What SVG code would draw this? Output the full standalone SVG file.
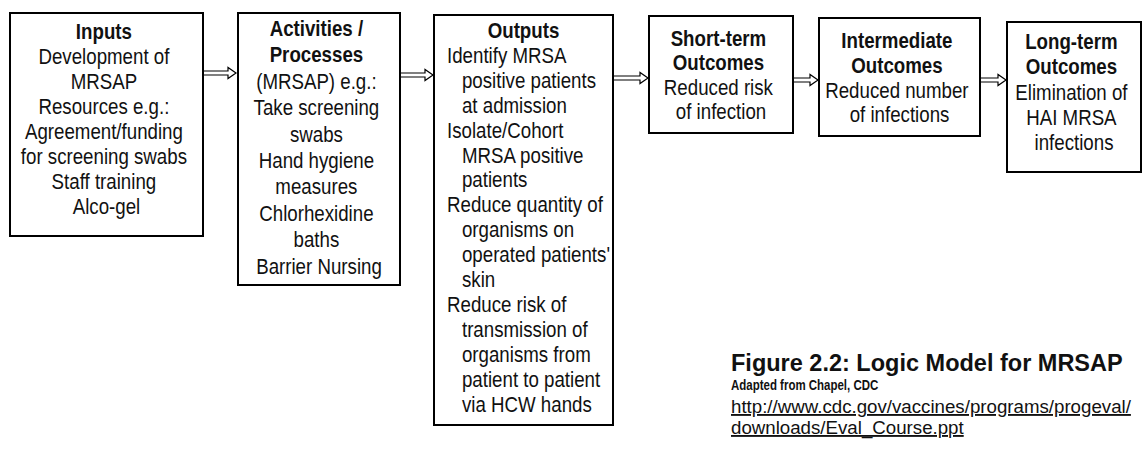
<svg xmlns="http://www.w3.org/2000/svg" width="1147" height="449" viewBox="0 0 1147 449">
<style>
.box{fill:#fff;stroke:#000;stroke-width:2}
.t{font-family:"Liberation Sans",Arial,sans-serif;font-size:22px;fill:#111;text-anchor:middle}
.l{text-anchor:start}
.b{font-weight:bold}
.arr{fill:#fff;stroke:#000;stroke-width:1.2;stroke-linejoin:miter}
.cap{font-family:"Liberation Sans",Arial,sans-serif;fill:#111;font-weight:bold}
.url{font-family:"Liberation Sans",Arial,sans-serif;fill:#111;font-size:18.7px;text-decoration:underline}
</style>
<rect width="1147" height="449" fill="#fff"/>
<g id="connectors">
<path class="arr" d="M203,71 H228 V67.5 L236,73 L228,78.5 V75 H203"/>
<path class="arr" d="M400,73 H425 V69.5 L433,75 L425,80.5 V77 H400"/>
<path class="arr" d="M613,76 H640 V72.5 L648,78 L640,83.5 V80 H613"/>
<path class="arr" d="M793,78 H810 V74.5 L818,80 L810,85.5 V82 H793"/>
<path class="arr" d="M980,78 H998 V74.5 L1006,80 L998,85.5 V82 H980"/>
</g>
<g id="inputs">
<rect class="box" x="10" y="13" width="193" height="223"/>
<text class="t" transform="translate(106.5,0) scale(0.85,1)" x="0" y="39"><tspan class="b">Inputs</tspan>
<tspan x="0" dy="25">Development of</tspan>
<tspan x="0" dy="25">MRSAP</tspan>
<tspan x="0" dy="25">Resources e.g.:</tspan>
<tspan x="0" dy="25">Agreement/funding</tspan>
<tspan x="0" dy="25">for screening swabs</tspan>
<tspan x="0" dy="25">Staff training</tspan>
<tspan x="0" dy="25">Alco-gel</tspan></text>
</g>
<g id="activities">
<rect class="box" x="238" y="13" width="162" height="272"/>
<text class="t" transform="translate(319,0) scale(0.85,1)" x="0" y="36"><tspan class="b">Activities /</tspan>
<tspan x="0" dy="26.4" class="b">Processes</tspan>
<tspan x="0" dy="26.4">(MRSAP) e.g.:</tspan>
<tspan x="0" dy="26.4">Take screening</tspan>
<tspan x="0" dy="26.4">swabs</tspan>
<tspan x="0" dy="26.4">Hand hygiene</tspan>
<tspan x="0" dy="26.4">measures</tspan>
<tspan x="0" dy="26.4">Chlorhexidine</tspan>
<tspan x="0" dy="26.4">baths</tspan>
<tspan x="0" dy="26.4">Barrier Nursing</tspan></text>
</g>
<g id="outputs">
<rect class="box" x="434" y="15" width="179" height="410"/>
<text class="t b" transform="translate(523.5,0) scale(0.85,1)" x="0" y="38">Outputs</text>
<text class="t l" transform="translate(447,0) scale(0.85,1)" x="0" y="63">Identify MRSA
<tspan x="17.6" dy="24.9">positive patients</tspan>
<tspan x="17.6" dy="24.9">at admission</tspan>
<tspan x="0" dy="24.9">Isolate/Cohort</tspan>
<tspan x="17.6" dy="24.9">MRSA positive</tspan>
<tspan x="17.6" dy="24.9">patients</tspan>
<tspan x="0" dy="24.9">Reduce quantity of</tspan>
<tspan x="17.6" dy="24.9">organisms on</tspan>
<tspan x="17.6" dy="24.9">operated patients'</tspan>
<tspan x="17.6" dy="24.9">skin</tspan>
<tspan x="0" dy="24.9">Reduce risk of</tspan>
<tspan x="17.6" dy="24.9">transmission of</tspan>
<tspan x="17.6" dy="24.9">organisms from</tspan>
<tspan x="17.6" dy="24.9">patient to patient</tspan>
<tspan x="17.6" dy="24.9">via HCW hands</tspan></text>
</g>
<g id="short-term">
<rect class="box" x="649" y="16" width="144" height="117"/>
<text class="t" transform="translate(721,0) scale(0.85,1)" x="0" y="46"><tspan class="b">Short-term</tspan>
<tspan x="0" dy="24.5" class="b">Outcomes</tspan>
<tspan x="0" dy="24.5">Reduced risk</tspan>
<tspan x="0" dy="24.5">of infection</tspan></text>
</g>
<g id="intermediate">
<rect class="box" x="819" y="18" width="161" height="118"/>
<text class="t" transform="translate(899.5,0) scale(0.85,1)" x="0" y="48"><tspan class="b">Intermediate</tspan>
<tspan x="0" dy="24.8" class="b">Outcomes</tspan>
<tspan x="0" dy="24.8">Reduced number</tspan>
<tspan x="0" dy="24.8">of infections</tspan></text>
</g>
<g id="long-term">
<rect class="box" x="1007" y="22" width="134" height="150"/>
<text class="t" transform="translate(1074,0) scale(0.85,1)" x="0" y="49"><tspan class="b">Long-term</tspan>
<tspan x="0" dy="25.3" class="b">Outcomes</tspan>
<tspan x="0" dy="25.3">Elimination of</tspan>
<tspan x="0" dy="25.3">HAI MRSA</tspan>
<tspan x="0" dy="25.3">infections</tspan></text>
</g>
<g id="caption">
<text class="cap" x="731" y="371" font-size="23.5">Figure 2.2: Logic Model for MRSAP</text>
<text class="cap" transform="translate(731,0) scale(0.82,1)" x="0" y="390" font-size="14">Adapted from Chapel, CDC</text>
<text class="url" x="731" y="413">http://www.cdc.gov/vaccines/programs/progeval/</text>
<text class="url" x="731" y="434">downloads/Eval_Course.ppt</text>
</g>
</svg>
